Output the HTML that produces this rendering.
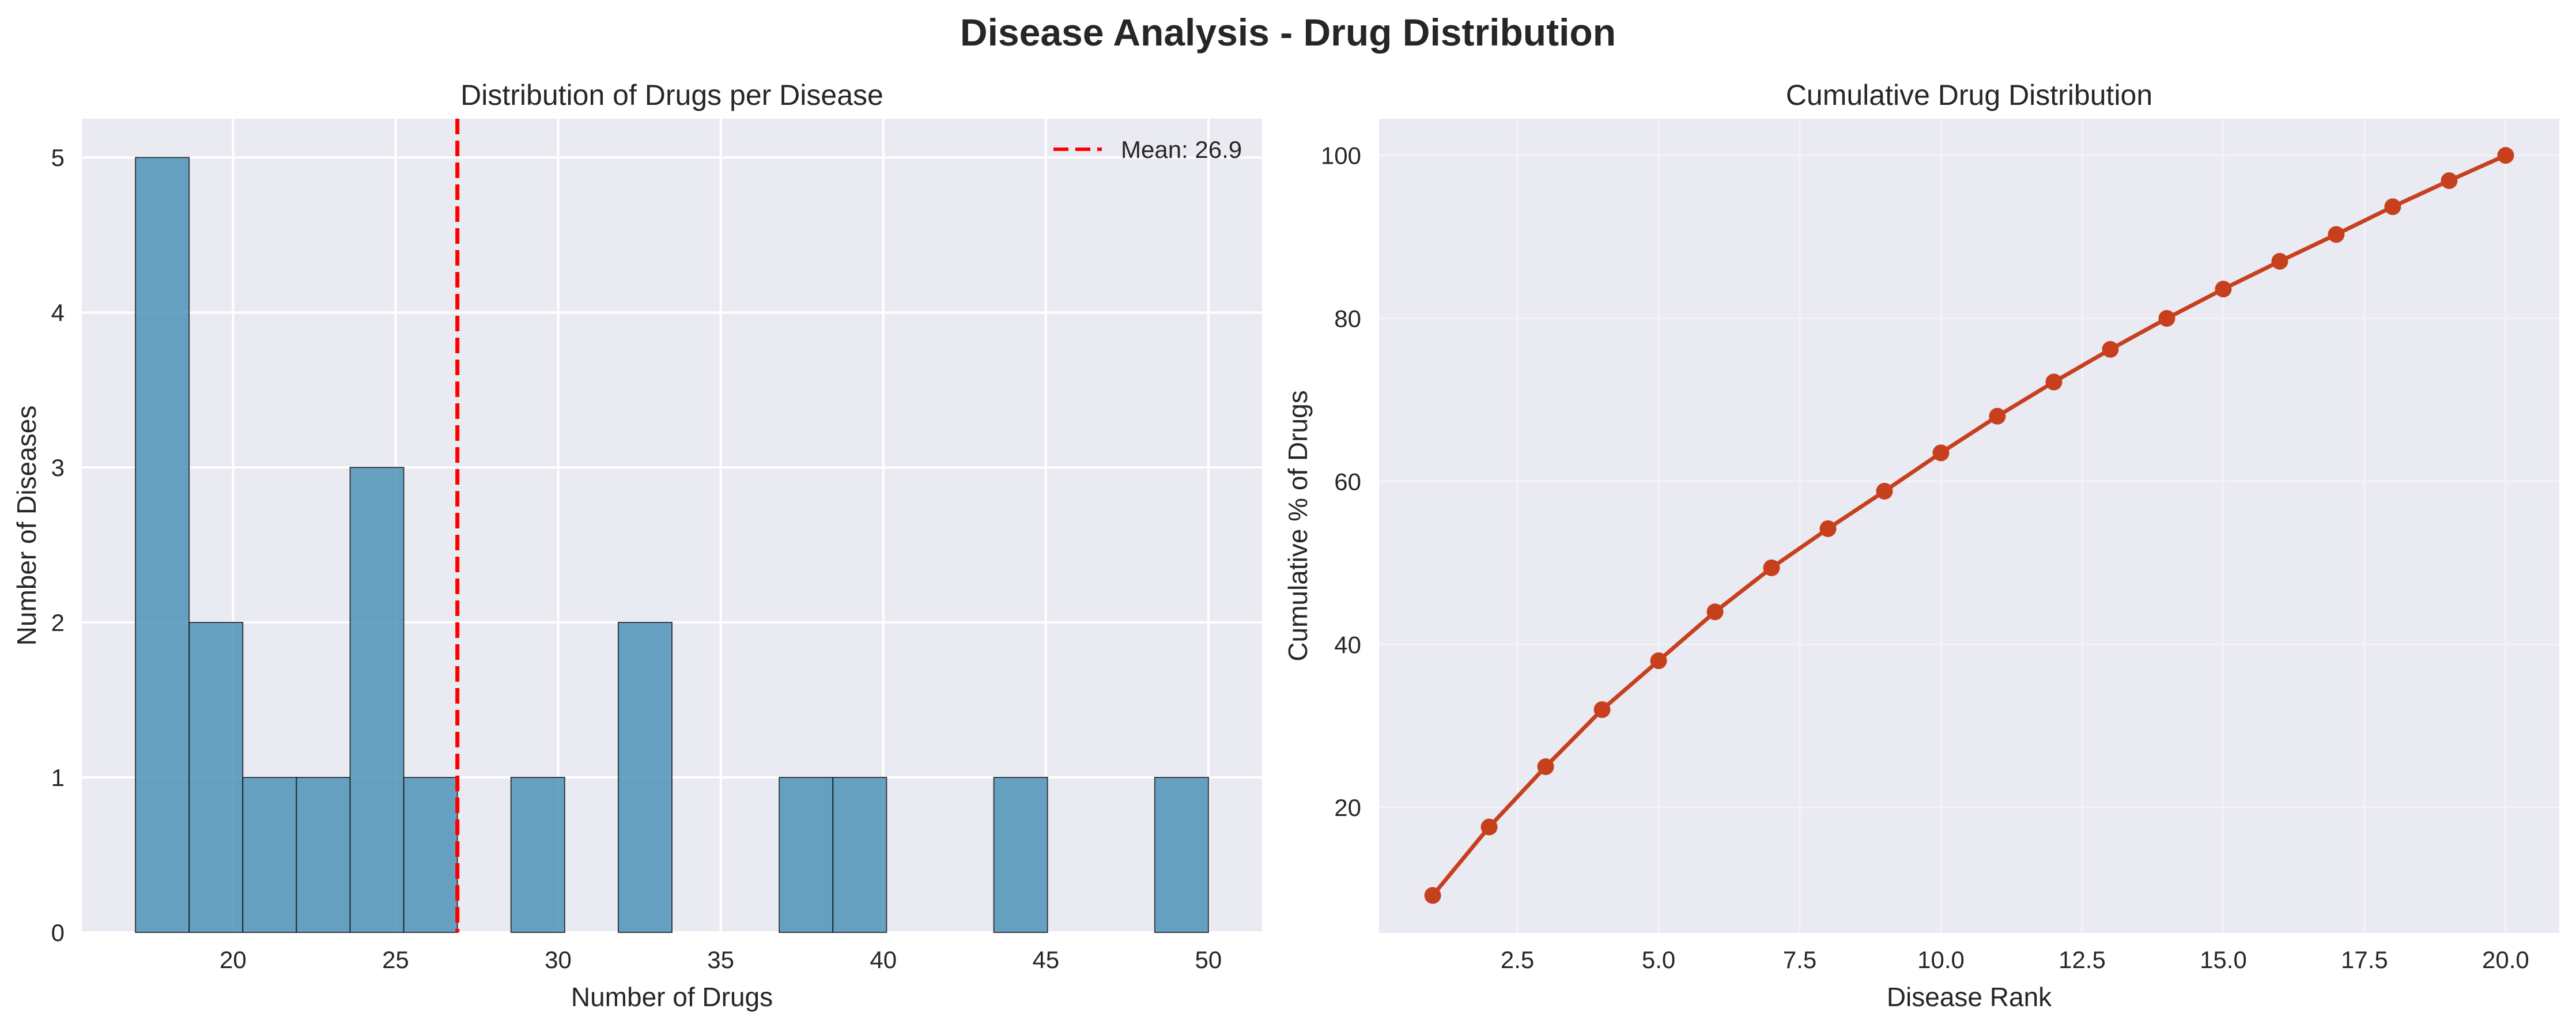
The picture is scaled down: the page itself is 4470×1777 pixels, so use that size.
<!DOCTYPE html>
<html><head><meta charset="utf-8"><style>
html,body{margin:0;padding:0;background:#fff;}
svg{display:block;font-family:"Liberation Sans",Arial,sans-serif;}
</style></head><body>
<svg id="fig" width="4470" height="1777" viewBox="0 0 4470 1777" xmlns="http://www.w3.org/2000/svg">
<rect width="4470" height="1777" fill="#fff"/>
<text x="2235" y="79" text-anchor="middle" font-size="66" font-weight="bold" fill="#262626">Disease Analysis - Drug Distribution</text>
<g id="left"></g>
<g id="right"></g>
</svg>
<script>
// ---- Histogram data ----
const binStart = 17;
const binWidth = 1.65;
const binCounts = [5,2,1,1,3,1,0,1,0,2,0,0,1,1,0,0,1,0,0,1];
const meanValue = 26.9;
const histXTicks = [20,25,30,35,40,45,50];
const histYTicks = [0,1,2,3,4,5];
// ---- Cumulative data ----
const ranks = [1,2,3,4,5,6,7,8,9,10,11,12,13,14,15,16,17,18,19,20];
const cumPct = [9.2,17.6,25.0,32.0,38.0,44.0,49.4,54.2,58.8,63.5,68.0,72.2,76.2,80.0,83.6,87.0,90.3,93.7,96.9,100.0];
const cumXTicks = [2.5,5.0,7.5,10.0,12.5,15.0,17.5,20.0];
const cumYTicks = [20,40,60,80,100];

const NS = "http://www.w3.org/2000/svg";
function mk(parent, tag, attrs, text){
  const e = document.createElementNS(NS, tag);
  for (const k in attrs) e.setAttribute(k, attrs[k]);
  if (text !== undefined) e.textContent = text;
  parent.appendChild(e);
  return e;
}
const TXT = "#262626";

// ===== Left histogram =====
(function(){
  const g = document.getElementById('left');
  const L=142, R=2190, T=206, B=1618;
  const xmin = binStart - binWidth, xmax = binStart + binCounts.length*binWidth + binWidth;
  const ymax = 5.25;
  const sx = v => L + (v - xmin)/(xmax - xmin)*(R-L);
  const sy = v => B - v/ymax*(B-T);
  const bg = mk(g,'rect',{x:L,y:T,width:R-L,height:B-T,fill:'#eaeaf2'});
  
  
  histXTicks.forEach(t=>{
    const l = mk(g,'line',{x1:sx(t),x2:sx(t),y1:T,y2:B,stroke:'#fff','stroke-width':4});
    
    
    const tx = mk(g,'text',{x:sx(t),y:1680,'text-anchor':'middle','font-size':42,fill:TXT},String(t));
    
    
  });
  histYTicks.forEach(t=>{
    const l = mk(g,'line',{x1:L,x2:R,y1:sy(t),y2:sy(t),stroke:'#fff','stroke-width':4});
    
    
    const tx = mk(g,'text',{x:112,y:sy(t)+15,'text-anchor':'end','font-size':42,fill:TXT},String(t));
    
    
  });
  binCounts.forEach((c,i)=>{
    if (c<=0) return;
    const x0 = sx(binStart + i*binWidth), x1 = sx(binStart+(i+1)*binWidth);
    const r = mk(g,'rect',{x:x0,y:sy(c),width:x1-x0,height:sy(0)-sy(c),fill:'#4d93b8','fill-opacity':0.85,stroke:'#1a1a1a','stroke-opacity':0.8,'stroke-width':2});
    
    
  });
  const ml = mk(g,'line',{x1:sx(meanValue),x2:sx(meanValue),y1:T,y2:B,stroke:'#ff0000','stroke-width':7,'stroke-dasharray':'27 11'});
  
  
  const lg = mk(g,'g',{});
  
  
  mk(lg,'line',{x1:1828,x2:1912,y1:259,y2:259,stroke:'#ff0000','stroke-width':6,'stroke-dasharray':'26 12'});
  const lt = mk(lg,'text',{x:1945,y:274,'font-size':42,fill:TXT},'Mean: ' + meanValue.toFixed(1));
  
  
  const tt = mk(g,'text',{x:(L+R)/2,y:182,'text-anchor':'middle','font-size':50,fill:TXT},'Distribution of Drugs per Disease');
  
  
  const xt = mk(g,'text',{x:(L+R)/2,y:1746,'text-anchor':'middle','font-size':46,fill:TXT},'Number of Drugs');
  
  
  const yt = mk(g,'text',{x:0,y:0,'text-anchor':'middle','font-size':46,fill:TXT,transform:'translate(62,'+((T+B)/2)+') rotate(-90)'},'Number of Diseases');
  
  
})();

// ===== Right cumulative =====
(function(){
  const g = document.getElementById('right');
  const L=2393, R=4441, T=206, B=1619;
  const xmin = 0.05, xmax = 20.95, ymin = 4.6, ymax = 104.5;
  const sx = v => L + (v-xmin)/(xmax-xmin)*(R-L);
  const sy = v => B - (v-ymin)/(ymax-ymin)*(B-T);
  const bg = mk(g,'rect',{x:L,y:T,width:R-L,height:B-T,fill:'#eaeaf2'});
  
  
  cumXTicks.forEach(t=>{
    const l = mk(g,'line',{x1:sx(t),x2:sx(t),y1:T,y2:B,stroke:'#f3f3f7','stroke-width':3});
    
    
    const tx = mk(g,'text',{x:sx(t),y:1680,'text-anchor':'middle','font-size':42,fill:TXT},t.toFixed(1));
    
    
  });
  cumYTicks.forEach(t=>{
    const l = mk(g,'line',{x1:L,x2:R,y1:sy(t),y2:sy(t),stroke:'#f3f3f7','stroke-width':3});
    
    
    const tx = mk(g,'text',{x:2362,y:sy(t)+15,'text-anchor':'end','font-size':42,fill:TXT},String(t));
    
    
  });
  const pts = ranks.map((r,i)=>sx(r)+','+sy(cumPct[i])).join(' ');
  const pl = mk(g,'polyline',{points:pts,fill:'none',stroke:'#c7401e','stroke-width':7,'stroke-linejoin':'round'});
  
  
  ranks.forEach((r,i)=>{
    const c = mk(g,'circle',{cx:sx(r),cy:sy(cumPct[i]),r:14.5,fill:'#c7401e'});
    
    
  });
  const tt = mk(g,'text',{x:(L+R)/2,y:182,'text-anchor':'middle','font-size':50,fill:TXT},'Cumulative Drug Distribution');
  
  
  const xt = mk(g,'text',{x:(L+R)/2,y:1746,'text-anchor':'middle','font-size':46,fill:TXT},'Disease Rank');
  
  
  const yt = mk(g,'text',{x:0,y:0,'text-anchor':'middle','font-size':46,fill:TXT,transform:'translate(2268,'+((T+B)/2)+') rotate(-90)'},'Cumulative % of Drugs');
  
  
})();
</script>
</body></html>
